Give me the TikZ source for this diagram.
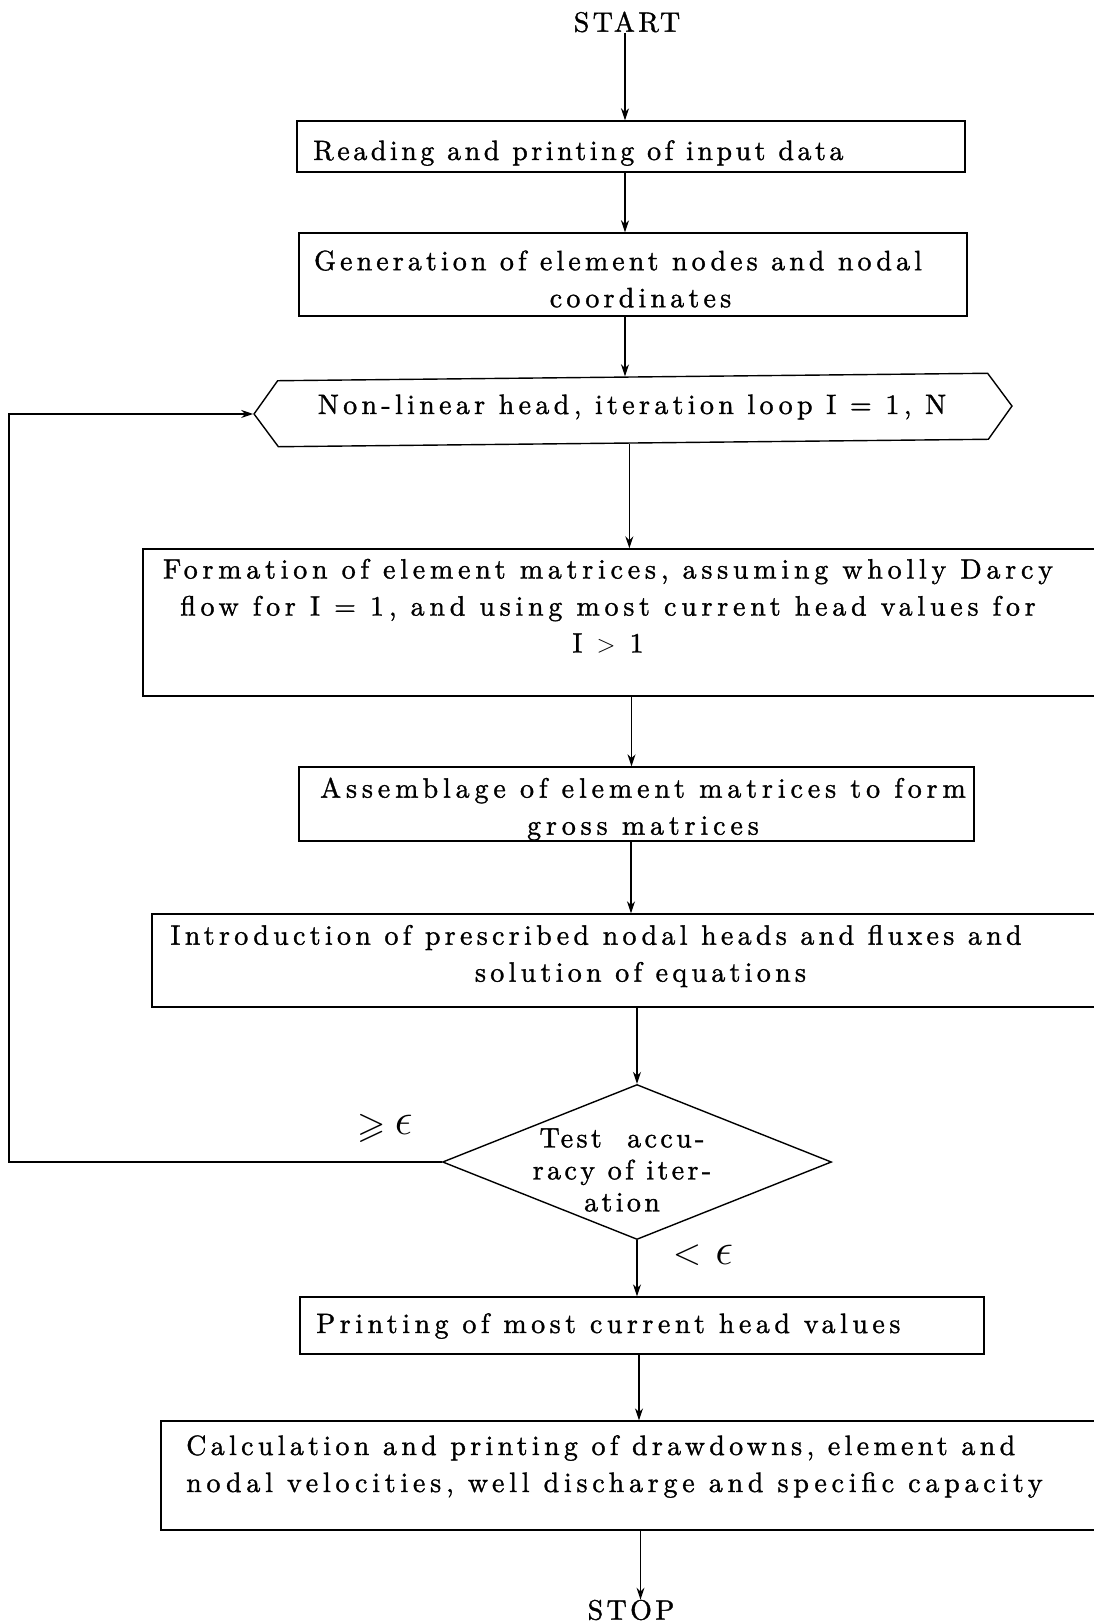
\documentclass[tikz,border=0pt]{standalone}
\usepackage{fontspec}
\setmainfont{lmroman10-regular}[Extension=.otf, LetterSpace=15, RawFeature={embolden=1.2}]
\usepackage{amssymb}
\usepackage{graphicx}
\usetikzlibrary{shapes.geometric, shapes.symbols, arrows.meta}
\newcommand\lsp[1]{\addfontfeature{LetterSpace=#1}}
\begin{document}
\begin{tikzpicture}[x=1pt, y=-1pt,
  font=\fontsize{28}{37}\selectfont,
  box/.style={draw, line width=1.4pt, inner sep=0pt},
  lbl/.style={inner sep=0pt, align=center},
  arr/.style={line width=1.3pt, -{Stealth[length=12pt, width=8pt]}}]
\clip (0,0) rectangle (1094,1624);
\node[lbl] (start) at (627,22) {\lsp{12}START};
\node[box, minimum width=668, minimum height=51] (b1) at (631,146.5) {};
\node[lbl, anchor=west] (t1) at (313,153) {\lsp{12.6}Reading and printing of input data};
\node[box, minimum width=668, minimum height=83] (b2) at (633,274.5) {};
\node[lbl] (t2) at (618,279) {\lsp{14.6}Generation of element nodes and nodal\\\hspace*{45pt}coordinates};
\node[box, signal, signal to=west and east, signal pointer angle=108, minimum width=758, minimum height=66, rotate=0.6] (hex) at (633,410) {};
\node[lbl] (th) at (632,407) {\lsp{15.4}Non-linear head, iteration loop I = 1, N};
\node[box, minimum width=977, minimum height=147] (b3) at (631.5,622.5) {};
\node[lbl] (t3) at (608,606) {\lsp{17}Formation of element matrices, assuming wholly Darcy\\\lsp{17}flow for I = 1, and using most current head values for\\\lsp{17}I $>$ 1};
\node[box, minimum width=968, minimum height=93] (b5) at (636,960.5) {};
\node[lbl] (t5) at (596,956) {\lsp{15.3}Introduction of prescribed nodal heads and fluxes and\\\hspace*{89pt}\lsp{15.3}solution of equations};
\node[box, minimum width=675, minimum height=74] (b4) at (636.5,804) {};
\node[lbl] (t4) at (643,809) {\lsp{17.4}Assemblage of element matrices to form\\\lsp{17.4}gross matrices};
\node[box, diamond, minimum width=389, minimum height=155] (dia) at (637,1162) {};
\node[lbl, font=\fontsize{28}{32}\selectfont] (td) at (622,1170) {\lsp{12}Test~~accu-\\\lsp{12}racy of iter-\\\lsp{12}ation};
\node[box, minimum width=684, minimum height=57] (b6) at (642,1325.5) {};
\node[lbl, anchor=west] (t6) at (316,1326) {\lsp{16.1}Printing of most current head values};
\node[box, minimum width=959, minimum height=109] (b7) at (640.5,1475.5) {};
\node[lbl, anchor=west, align=left] (t7) at (186,1466.5) {\lsp{15.4}Calculation and printing of drawdowns, element and\\\lsp{17}nodal velocities, well discharge and specific capacity};
\node[lbl] (stop) at (631,1610) {\lsp{12}STOP};
\node[lbl] (ge) at (385,1128) {\scalebox{1.3}{$\geqslant$}\hspace{9pt}\raisebox{3pt}{\scalebox{1.8}{$\epsilon$}}};
\node[lbl] (lt) at (703,1255) {\scalebox{1.5}{$<$}\hspace{14pt}\scalebox{1.8}{$\epsilon$}};
\coordinate (lp) at (9,1162);
\draw[arr] ([xshift=-2pt]start.south) -- ([xshift=-2pt]start.south |- b1.north);
\draw[arr] ([xshift=-6pt]b1.south) -- ([xshift=-6pt]b1.south |- b2.north);
\draw[arr] ([xshift=-8pt]b2.south) -- ([xshift=-8pt]b2.south |- hex.north);
\draw[arr] ([xshift=-4pt]hex.south) -- ([xshift=-4pt]hex.south |- b3.north);
\draw[arr] (b3.south) -- (b3.south |- b4.north);
\draw[arr] ([xshift=-5.5pt]b4.south) -- ([xshift=-5.5pt]b4.south |- b5.north);
\draw[arr] (dia.north |- b5.south) -- (dia.north);
\draw[arr] (dia.south) -- (dia.south |- b6.north);
\draw[arr] ([xshift=-3pt]b6.south) -- ([xshift=-3pt]b6.south |- b7.north);
\draw[arr] (b7.south) -- (b7.south |- stop.north);
\draw[arr] (dia.west) -- (lp) |- (hex.west);
\end{tikzpicture}
\end{document}
